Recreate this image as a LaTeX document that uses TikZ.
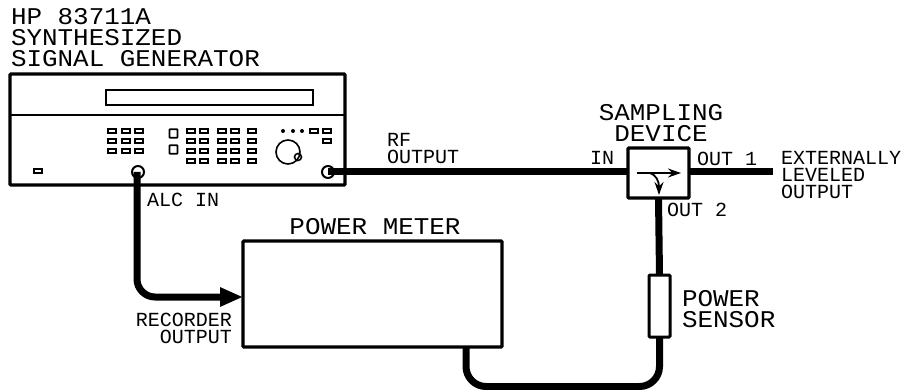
\documentclass[tikz,border=0pt]{standalone}
\usepackage{fontspec}
\usetikzlibrary{arrows.meta}
\newfontfamily\hpfont[FakeStretch=1.08]{Liberation Mono}
\newfontfamily\hpsmallfont{Liberation Mono}

\begin{document}
\begin{tikzpicture}[
    x=1pt, y=-1pt,
    every node/.style={inner sep=0pt, outer sep=0pt},
    panel/.style={draw, line width=3.2pt, rounded corners=1pt, minimum width=#1},
    keycap/.style={draw, line width=1.6pt, minimum width=8pt, minimum height=4.5pt},
    bigkey/.style={draw, line width=1.6pt, rounded corners=0.5pt, minimum width=8pt, minimum height=8.5pt},
    jack/.style={draw, circle, line width=2pt, minimum size=12pt},
    cable/.style={line width=7pt},
    biglabel/.style={font=\hpfont\fontsize{24}{21}\selectfont, align=left},
    smalllabel/.style={font=\hpsmallfont\fontsize{20}{17}\selectfont, align=left},
    arrow/.style={-{Stealth[length=13pt, width=9pt]}, line width=1.8pt}
]
    \useasboundingbox (0,0) rectangle (905,390);

    % signal generator
    \node (gen) [panel=335pt, minimum height=111pt] at (177.5,129.5) {};
    \coordinate (dividerl) at (10,115);
    \coordinate (dividerr) at (345,115);
    \draw[line width=2pt] (dividerl) -- (dividerr);
    \node (display) [draw, line width=1.8pt, minimum width=207pt, minimum height=15pt] at (209.5,97.5) {};
    \foreach \kx in {112,126,139} \foreach \ky in {131,141,151}
        \node (key\kx\ky) [keycap] at (\kx,\ky) {};
    \foreach \kx in {191,204,222,235,252} \foreach \ky in {131,141,151,161}
        \node (key\kx\ky) [keycap] at (\kx,\ky) {};
    \node (softa) [bigkey] at (173.5,133.5) {};
    \node (softb) [bigkey] at (173.5,149.5) {};
    \foreach \kx in {283,293,302}
        \fill (\kx,131) circle (2pt);
    \node (keya) [keycap] at (314,131) {};
    \node (keyb) [keycap] at (327,131) {};
    \node (keyc) [keycap] at (327,141) {};
    \node (power) [keycap] at (38,171) {};
    \node (knob) [draw, circle, line width=1.6pt, minimum size=24pt] at (288,152) {};
    \node (knobpin) [draw, circle, line width=1.6pt, minimum size=7pt] at (298,157) {};
    \node (alcin) [jack] at (138,172) {};
    \node (rfout) [jack] at (328,172) {};

    % sampling device and sensor
    \node (sampler) [panel=61pt, minimum height=50pt] at (658.5,173) {};
    \node (sensor) [draw, line width=3pt, rounded corners=1pt, minimum width=21pt, minimum height=62pt] at (659.5,306) {};
    \node (meter) [panel=259pt, minimum height=106pt] at (372.5,294) {};
    \coordinate (thrua) at (637,173);
    \coordinate (thrub) at (681,173);
    \coordinate (tapa) at (650,173);
    \coordinate (tapb) at (659,195);
    \draw[arrow] (thrua) -- (thrub);
    \draw[arrow] (tapa) .. controls (656,175) and (659,181) .. (tapb);

    % cables
    \coordinate (alcstart) at (137,172);
    \coordinate (meterin) at (243,297);
    \coordinate (level) at (773,172);
    \coordinate (rfend) at (sampler.west |- rfout);
    \coordinate (outa) at (sampler.east |- rfout);
    \coordinate (metout) at (466,347);
    \coordinate (lowcorner) at (659.5,386.5);
    \draw[cable] (rfout.center) -- (rfend);
    \draw[cable] (outa) -- (level);
    \draw[cable] (sampler.south) -- (sensor.north);
    \draw[cable, rounded corners=20pt] (metout) |- (lowcorner) -- (sensor.south);
    \draw[line width=7pt, rounded corners=18pt, -{Triangle[length=23pt, width=18pt]}] (alcstart) |- (meterin);

    % labels
    \node (genlabel) [biglabel, anchor=north west] at (11,8.5) {HP 83711A\\SYNTHESIZED\\SIGNAL GENERATOR};
    \node (samplabel) [biglabel, align=center, anchor=center] at (661,123) {SAMPLING\\DEVICE};
    \node (rflabel) [smalllabel, anchor=west] at (387,149) {RF\\OUTPUT};
    \node (inlabel) [smalllabel, anchor=west] at (590,158) {IN};
    \node (outalabel) [smalllabel, anchor=west] at (697,159) {OUT 1};
    \node (outblabel) [smalllabel, anchor=west] at (667,210) {OUT 2};
    \node (extlabel) [smalllabel, anchor=west] at (781,175) {EXTERNALLY\\LEVELED\\OUTPUT};
    \node (alclabel) [smalllabel, anchor=west] at (147,200) {ALC IN};
    \node (metlabel) [biglabel, anchor=center] at (375,227) {POWER METER};
    \node (reclabel) [smalllabel, align=right, anchor=east] at (232,328) {RECORDER\\OUTPUT};
    \node (senlabel) [biglabel, anchor=west] at (682,309) {POWER\\SENSOR};
\end{tikzpicture}
\end{document}
